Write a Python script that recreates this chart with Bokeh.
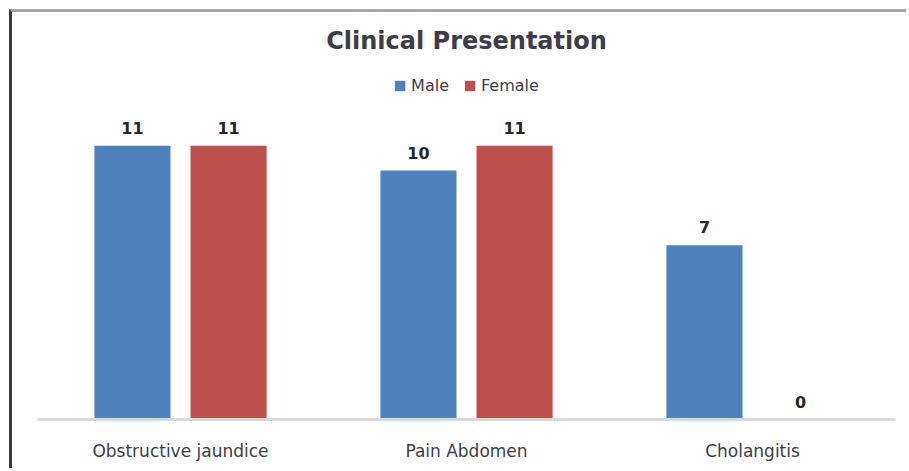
from bokeh.plotting import figure
from bokeh.models import ColumnDataSource, FactorRange, Legend, LegendItem, Label
from bokeh.transform import dodge
from bokeh.core.properties import value
from bokeh.embed import file_html
from bokeh.resources import INLINE

categories = ["Obstructive jaundice", "Pain Abdomen", "Cholangitis"]
male = [11, 10, 7]
female = [11, 11, 0]
series = ["Male", "Female"]
title_text = "Clinical Presentation"

FONT = "DejaVu Sans"
MALE_C = "#4F81BD"
FEMALE_C = "#C0504D"

src = ColumnDataSource(dict(
    cat=categories, male=male, female=female,
    male_txt=[str(v) for v in male], female_txt=[str(v) for v in female],
))

p = figure(width=897, height=459, x_range=FactorRange(*categories, range_padding=0),
           y_range=(0, 16.35), output_backend="svg", toolbar_location=None,
           min_border_left=25, min_border_right=14, min_border_top=0, min_border_bottom=52)
p.styles = {"margin-left": "9px", "margin-top": "9px",
            "border-left": "3px solid #3a3a3a", "border-top": "3px solid #a6a6a6"}
p.outline_line_color = None
p.xgrid.grid_line_color = None
p.ygrid.grid_line_color = None
p.yaxis.visible = False

off = 0.168
bw = 0.266
r_m = p.vbar(x=dodge("cat", -off, range=p.x_range), top="male", width=bw, source=src,
             fill_color=MALE_C, line_color=None)
r_f = p.vbar(x=dodge("cat", off, range=p.x_range), top="female", width=bw, source=src,
             fill_color=FEMALE_C, line_color=None)

for col, txt, o in (("male", "male_txt", -off), ("female", "female_txt", off)):
    p.text(x=dodge("cat", o, range=p.x_range), y=col, text=txt, source=src,
           text_font=value(FONT), text_font_style="bold", text_font_size="16px",
           text_color="#262626", text_align="center", text_baseline="middle", y_offset=-18)

p.add_layout(Label(x=1.5, y=15.22, text=title_text, text_font=FONT, text_font_style="bold",
                   text_font_size="24px", text_color="#3d3d4a", text_align="center",
                   text_baseline="middle"))

legend = Legend(items=[LegendItem(label=series[0], renderers=[r_m]),
                       LegendItem(label=series[1], renderers=[r_f])],
                orientation="horizontal", location="top_center", margin=64, padding=0,
                spacing=14, glyph_width=13, glyph_height=13, label_standoff=5,
                label_text_font=FONT, label_text_font_size="16px", label_text_color="#3d3d4a",
                border_line_color=None, background_fill_alpha=0)
p.add_layout(legend, "center")

ax = p.xaxis[0]
ax.axis_line_color = "#d9d9d9"
ax.axis_line_width = 3
ax.major_tick_line_color = None
ax.minor_tick_line_color = None
ax.major_label_standoff = 15
ax.major_label_text_font = FONT
ax.major_label_text_font_size = "17px"
ax.major_label_text_color = "#3d3d4a"

open("out.html", "w").write(file_html(p, INLINE))
